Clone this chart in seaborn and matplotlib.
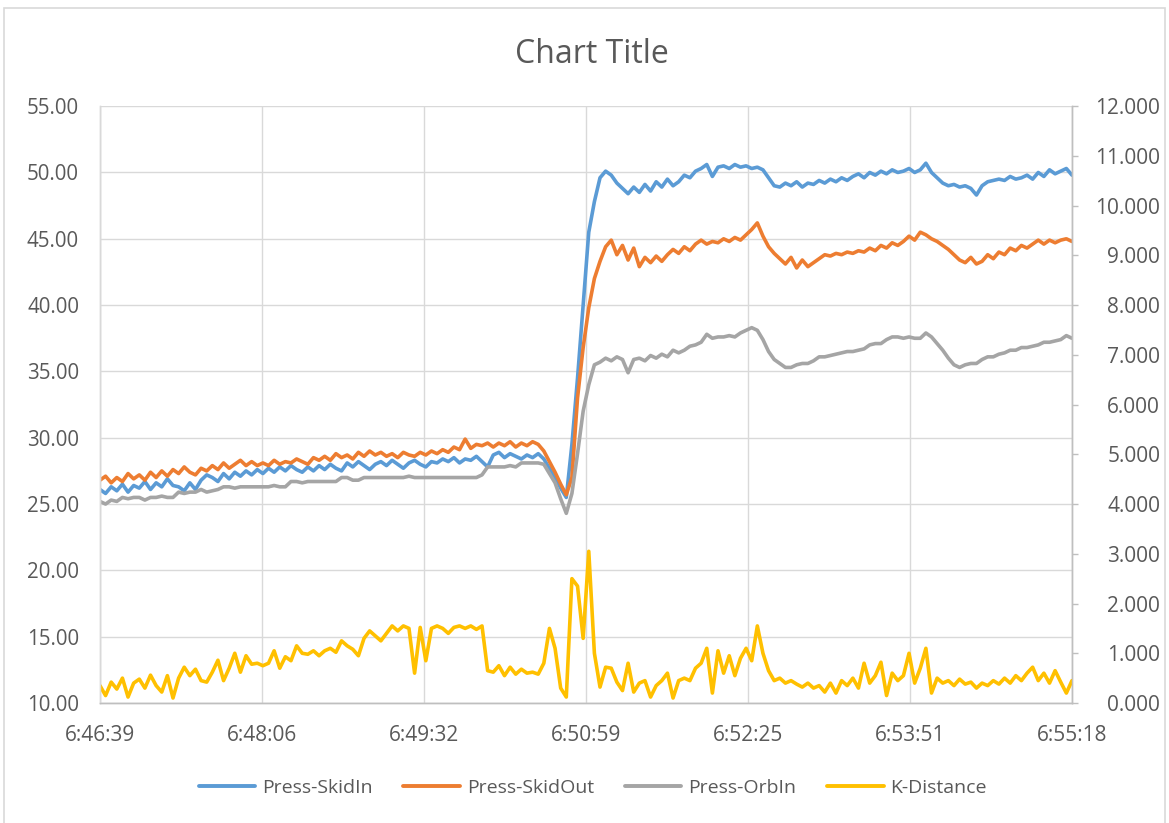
import numpy as np
import pandas as pd
import matplotlib
matplotlib.use("Agg")
import matplotlib.pyplot as plt
from matplotlib.patches import Rectangle
from matplotlib.lines import Line2D
import seaborn as sns

# ---- data: one sample every 3 s from 6:46:39 to 6:55:18 ----
step_s = 3
tick_labels = ["6:46:39", "6:48:06", "6:49:32", "6:50:59", "6:52:25", "6:53:51", "6:55:18"]
span_s = 519

press_skid_in = [
    26.1, 25.8, 26.3, 26.0, 26.5, 25.9, 26.4, 26.2, 26.7, 26.1,
    26.6, 26.3, 26.9, 26.4, 26.3, 26.0, 26.6, 26.1, 26.8, 27.2,
    27.0, 26.7, 27.3, 26.9, 27.4, 27.1, 27.5, 27.2, 27.6,
    27.3, 27.7, 27.4, 27.8, 27.5, 27.9, 27.6, 27.4, 27.8, 27.5, 27.9,
    27.6, 28.0, 27.7, 27.5, 28.1, 27.8, 28.2, 27.9, 27.6, 28.0,
    28.2, 27.9, 28.3, 28.0, 27.7, 28.1, 28.3, 28.0, 27.8, 28.2,
    28.1, 28.4, 28.2, 28.5, 28.1, 28.4, 28.3, 28.6, 28.2, 27.8,
    28.7, 28.9, 28.5, 28.8, 28.6, 28.4, 28.7, 28.5, 28.8, 28.4,
    27.7, 27.0, 26.2, 25.5, 29.5, 34.5, 40.0, 45.5, 47.8, 49.6,
    50.1, 49.8, 49.2, 48.8, 48.4, 48.9, 48.5, 49.1, 48.6, 49.3,
    48.9, 49.5, 49.0, 49.3, 49.8, 49.6, 50.1, 50.3, 50.6, 49.7,
    50.4, 50.5, 50.3, 50.6, 50.4, 50.5, 50.3, 50.4, 50.2, 49.6,
    49.0, 48.9, 49.2, 49.0, 49.3, 48.9, 49.2, 49.1, 49.4, 49.2,
    49.5, 49.3, 49.6, 49.4, 49.7, 49.9, 49.6, 50.0, 49.8, 50.1,
    49.9, 50.2, 50.0, 50.1, 50.3, 50.0, 50.2, 50.7, 50.0, 49.6,
    49.2, 49.0, 49.1, 48.9, 49.0, 48.8, 48.3, 49.0, 49.3, 49.4,
    49.5, 49.4, 49.7, 49.5, 49.6, 49.8, 49.5, 50.0, 49.7, 50.2,
    49.9, 50.1, 50.3, 49.8,
]

press_skid_out = [
    26.8, 27.1, 26.6, 27.0, 26.7, 27.3, 26.9, 27.2, 26.8, 27.4,
    27.0, 27.5, 27.1, 27.6, 27.3, 27.8, 27.4, 27.2, 27.7, 27.5,
    27.9, 27.6, 28.1, 27.7, 28.0, 28.3, 27.9, 28.2, 27.9,
    28.1, 27.9, 28.3, 28.0, 28.2, 28.1, 28.4, 28.2, 28.0, 28.5, 28.3,
    28.6, 28.3, 28.8, 28.5, 28.7, 28.4, 28.9, 28.6, 29.0, 28.7,
    28.9, 28.6, 28.8, 28.5, 28.9, 28.7, 28.6, 28.9, 28.7, 29.0,
    28.8, 29.1, 28.9, 29.3, 29.1, 29.9, 29.2, 29.5, 29.4, 29.6,
    29.3, 29.6, 29.4, 29.7, 29.3, 29.6, 29.4, 29.7, 29.5, 29.0,
    28.2, 27.4, 26.5, 25.7, 27.0, 33.0, 36.8, 39.8, 42.0, 43.3,
    44.4, 44.9, 43.8, 44.5, 43.4, 44.3, 42.9, 43.6, 43.2, 43.7,
    43.3, 43.8, 44.2, 43.9, 44.4, 44.1, 44.6, 44.9, 44.6, 44.8,
    44.7, 45.0, 44.8, 45.1, 44.9, 45.3, 45.7, 46.2, 45.2, 44.4,
    43.9, 43.5, 43.1, 43.6, 42.8, 43.4, 42.9, 43.2, 43.5, 43.8,
    43.7, 43.9, 43.8, 44.0, 43.9, 44.1, 44.0, 44.3, 44.1, 44.5,
    44.3, 44.7, 44.5, 44.8, 45.2, 44.9, 45.5, 45.3, 45.0, 44.8,
    44.5, 44.2, 43.8, 43.4, 43.2, 43.6, 43.1, 43.3, 43.8, 43.5,
    44.0, 43.8, 44.3, 44.1, 44.5, 44.3, 44.6, 44.9, 44.6, 44.9,
    44.7, 44.9, 45.0, 44.8,
]

press_orb_in = [
    25.2, 25.0, 25.3, 25.2, 25.5, 25.4, 25.5, 25.5, 25.3, 25.5,
    25.5, 25.6, 25.5, 25.5, 25.9, 25.8, 25.9, 25.9, 26.1, 25.9,
    26.0, 26.1, 26.3, 26.3, 26.2, 26.3, 26.3, 26.3, 26.3,
    26.3, 26.3, 26.4, 26.3, 26.3, 26.7, 26.7, 26.6, 26.7, 26.7, 26.7,
    26.7, 26.7, 26.7, 27.0, 27.0, 26.8, 26.8, 27.0, 27.0, 27.0,
    27.0, 27.0, 27.0, 27.0, 27.0, 27.1, 27.0, 27.0, 27.0, 27.0,
    27.0, 27.0, 27.0, 27.0, 27.0, 27.0, 27.0, 27.0, 27.2, 27.8,
    27.8, 27.8, 27.8, 27.9, 27.8, 28.1, 28.1, 28.1, 28.1, 28.0,
    27.3, 26.6, 25.4, 24.3, 25.8, 28.8, 32.0, 34.0, 35.5, 35.7,
    36.0, 35.8, 36.1, 35.9, 34.9, 35.9, 36.0, 35.8, 36.2, 36.0,
    36.3, 36.1, 36.6, 36.4, 36.6, 36.9, 37.0, 37.2, 37.8, 37.5,
    37.6, 37.6, 37.7, 37.6, 37.9, 38.1, 38.3, 38.1, 37.4, 36.5,
    35.9, 35.6, 35.3, 35.3, 35.5, 35.6, 35.6, 35.8, 36.1, 36.1,
    36.2, 36.3, 36.4, 36.5, 36.5, 36.6, 36.7, 37.0, 37.1, 37.1,
    37.4, 37.6, 37.6, 37.5, 37.6, 37.5, 37.5, 37.9, 37.6, 37.1,
    36.6, 36.0, 35.5, 35.3, 35.5, 35.6, 35.6, 35.9, 36.1, 36.1,
    36.3, 36.4, 36.6, 36.6, 36.8, 36.8, 36.9, 37.0, 37.2, 37.2,
    37.3, 37.4, 37.7, 37.5,
]

k_distance = [
    0.35, 0.15, 0.42, 0.28, 0.50, 0.12, 0.40, 0.48, 0.30, 0.56,
    0.35, 0.22, 0.55, 0.10, 0.50, 0.72, 0.55, 0.68, 0.45, 0.42,
    0.62, 0.86, 0.45, 0.70, 1.00, 0.62, 0.95, 0.78, 0.80, 0.75,
    0.80, 1.05, 0.70, 0.93, 0.85, 1.15, 1.00, 0.98, 1.05, 0.95,
    1.05, 1.10, 1.02, 1.25, 1.15, 1.08, 0.95, 1.30, 1.45, 1.35,
    1.25, 1.40, 1.55, 1.45, 1.55, 1.50, 0.60, 1.52, 0.85, 1.50,
    1.55, 1.50, 1.40, 1.52, 1.55, 1.50, 1.55, 1.48, 1.55, 0.65,
    0.62, 0.75, 0.55, 0.72, 0.58, 0.68, 0.60, 0.62, 0.58, 0.80,
    1.50, 1.10, 0.30, 0.12, 2.50, 2.35, 1.30, 3.05, 1.00, 0.32,
    0.72, 0.70, 0.42, 0.25, 0.80, 0.22, 0.40, 0.45, 0.12, 0.35,
    0.45, 0.60, 0.10, 0.45, 0.50, 0.45, 0.70, 0.80, 1.10, 0.20,
    1.05, 0.60, 0.95, 0.55, 0.90, 1.10, 0.85, 1.55, 1.00, 0.65,
    0.45, 0.50, 0.40, 0.45, 0.38, 0.32, 0.40, 0.30, 0.35, 0.22,
    0.40, 0.20, 0.45, 0.35, 0.50, 0.30, 0.80, 0.40, 0.55, 0.82,
    0.15, 0.60, 0.45, 0.55, 1.00, 0.40, 0.70, 1.10, 0.20, 0.50,
    0.40, 0.45, 0.35, 0.48, 0.38, 0.42, 0.30, 0.40, 0.35, 0.45,
    0.38, 0.50, 0.40, 0.55, 0.45, 0.60, 0.72, 0.45, 0.60, 0.40,
    0.65, 0.42, 0.20, 0.45,
]

series_names = ["Press-SkidIn", "Press-SkidOut", "Press-OrbIn", "K-Distance"]
series_colors = ["#5B9BD5", "#ED7D31", "#A5A5A5", "#FFC000"]

n = len(press_skid_in)
assert n == len(press_skid_out) == len(press_orb_in) == len(k_distance) == 174
seconds = np.arange(n) * step_s

left_df = pd.DataFrame({
    "t": np.tile(seconds, 3),
    "value": press_skid_in + press_skid_out + press_orb_in,
    "series": np.repeat(series_names[:3], n),
})
right_df = pd.DataFrame({"t": seconds, "value": k_distance})

# ---- styling ----
sns.set_theme(style="white")
plt.rcParams["font.family"] = ["Open Sans", "DejaVu Sans"]
text_color = "#595959"
grid_color = "#D9D9D9"
axis_color = "#BFBFBF"

fig = plt.figure(figsize=(11.69, 8.23), dpi=100)
ax = fig.add_axes([0.0855, 0.1458, 0.8315, 0.7252])
ax2 = ax.twinx()

sns.lineplot(data=left_df, x="t", y="value", hue="series",
             palette=dict(zip(series_names[:3], series_colors[:3])),
             hue_order=series_names[:3], linewidth=2.6, ax=ax, legend=False)
sns.lineplot(data=right_df, x="t", y="value", color=series_colors[3],
             linewidth=2.6, ax=ax2, legend=False)

# left axis
ax.set_xlim(0, span_s)
ax.set_ylim(10, 55)
ax.set_yticks(np.arange(10, 56, 5))
ax.set_yticklabels([f"{v:.2f}" for v in np.arange(10, 56, 5)])
ax.set_xticks(np.linspace(0, span_s, len(tick_labels)))
ax.set_xticklabels(tick_labels)
ax.grid(True, color=grid_color, linewidth=1)
ax.set_axisbelow(True)
ax.set_xlabel("")
ax.set_ylabel("")
ax.tick_params(axis="y", length=0, pad=15, labelsize=14.8, labelcolor=text_color)
ax.tick_params(axis="x", length=0, pad=16, labelsize=15, labelcolor=text_color)

# right axis: labels right-aligned against the figure edge
ax2.set_ylim(0, 12)
ax2.set_yticks(np.arange(0, 13, 1))
ax2.set_yticklabels([f"{v:.3f}" for v in np.arange(0, 13, 1)], ha="right")
ax2.set_ylabel("")
ax2.grid(False)
ax2.tick_params(axis="y", length=4.5, width=1, color=axis_color, pad=59,
                labelsize=15, labelcolor=text_color)

for a in (ax, ax2):
    a.spines["top"].set_visible(False)
    a.spines["left"].set_color(grid_color)
    a.spines["bottom"].set_color(axis_color)
    a.spines["right"].set_color(axis_color)
    for s in a.spines.values():
        s.set_linewidth(1)

fig.text(0.506, 0.934, "Chart Title", ha="center", va="center",
         fontsize=23, color=text_color)

handles = [Line2D([0], [0], color=c, linewidth=2.8) for c in series_colors]
fig.legend(handles, series_names, loc="center", bbox_to_anchor=(0.507, 0.0425),
           ncol=4, frameon=False, fontsize=14, handlelength=2.9,
           columnspacing=1.6, handletextpad=0.35, labelcolor=text_color)

# chart frame
fig.patches.append(Rectangle((0.003, -0.01), 0.994, 1.0, transform=fig.transFigure,
                             fill=False, edgecolor=grid_color, linewidth=1.2))

fig.savefig("out.png", dpi=100, facecolor="white")
